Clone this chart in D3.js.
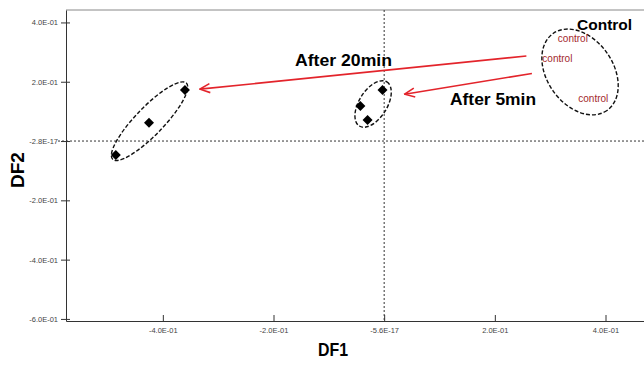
<!DOCTYPE html>
<html>
<head>
<meta charset="utf-8">
<script src="https://cdn.jsdelivr.net/npm/d3@7"></script>
<style>
  body { margin: 0; background: #fff; }
  svg { display: block; font-family: "Liberation Sans", Arial, sans-serif; }
</style>
</head>
<body>
<div id="chart"></div>
<script>
// discriminant scores
var df1Points = [-0.485, -0.425, -0.360, -0.043, -0.030, -0.003];
var df2Points = [-0.047, 0.062, 0.172, 0.118, 0.071, 0.172];

var controlDF1 = [0.341, 0.313, 0.378];
var controlDF2 = [0.347, 0.280, 0.142];
var controlText = ["control", "control", "control"];

var xTicks = [-0.4, -0.2, 0, 0.2, 0.4];
var xTickLabels = ["-4.0E-01", "-2.0E-01", "-5.6E-17", "2.0E-01", "4.0E-01"];
var yTicks = [0.4, 0.2, 0, -0.2, -0.4, -0.6];
var yTickLabels = ["4.0E-01", "2.0E-01", "-2.8E-17", "-2.0E-01", "-4.0E-01", "-6.0E-01"];

// group ellipses: centre in data units
var ellipseDF1 = [-0.424, -0.020, 0.354];
var ellipseDF2 = [0.067, 0.125, 0.233];

// arrows: start and end in data units
var arrowFrom1 = [0.257, 0.267];
var arrowFrom2 = [0.287, 0.228];
var arrowTo1 = [-0.333, 0.037];
var arrowTo2 = [0.175, 0.158];

var width = 644, height = 365;

var x = d3.scaleLinear().domain([-0.575, 0.475]).range([66, 647]);
var y = d3.scaleLinear().domain([-0.607, 0.442]).range([321, 10]);

var svg = d3.select("#chart").append("svg")
    .attr("width", width)
    .attr("height", height);

//테두리
svg.append("line").attr("x1", 66).attr("x2", width).attr("y1", 10).attr("y2", 10)
    .attr("stroke", "#888").attr("stroke-width", 1);

// zero lines
svg.append("line")
    .attr("x1", 58).attr("x2", width)
    .attr("y1", y(0)).attr("y2", y(0))
    .attr("stroke", "#333").attr("stroke-dasharray", "2,2");
svg.append("line")
    .attr("x1", x(0)).attr("x2", x(0))
    .attr("y1", 10).attr("y2", 321)
    .attr("stroke", "#333").attr("stroke-dasharray", "2,2");

// axes
var xAxis = d3.axisBottom(x).tickValues(xTicks).tickSize(0)
    .tickFormat(function (d, i) { return xTickLabels[i]; });
var gx = svg.append("g").attr("transform", "translate(0,321)").call(xAxis);
gx.select(".domain").attr("stroke", "#333");
gx.selectAll(".tick line").attr("y1", -6).attr("y2", 0).attr("stroke", "#333");
gx.selectAll("text").attr("dy", 0).attr("y", 12).attr("font-size", 7.5)
    .attr("fill", "#444").attr("font-family", "Liberation Sans, Arial, sans-serif");

var yAxis = d3.axisLeft(y).tickValues(yTicks).tickSize(0)
    .tickFormat(function (d, i) { return yTickLabels[i]; });
var gy = svg.append("g").attr("transform", "translate(66,0)").call(yAxis);
gy.select(".domain").attr("stroke", "#333");
gy.selectAll(".tick line").attr("x1", -5).attr("x2", 4).attr("stroke", "#333");
gy.selectAll("text").attr("x", -8).attr("font-size", 7.5)
    .attr("fill", "#444").attr("font-family", "Liberation Sans, Arial, sans-serif");

// axis titles
svg.append("text")
    .attr("x", 333).attr("y", 356)
    .attr("text-anchor", "middle")
    .attr("font-size", 18).attr("font-weight", "bold")
    .attr("textLength", 30).attr("lengthAdjust", "spacingAndGlyphs")
    .text("DF1");
svg.append("text")
    .attr("transform", "translate(24,170) rotate(-90)")
    .attr("text-anchor", "middle")
    .attr("font-size", 19).attr("font-weight", "bold")
    .text("DF2");

// ellipses
var ellRx = [53, 26, 47], ellRy = [14, 14, 33], ellRot = [-46, -58, 55];
svg.selectAll("ellipse.grp")
    .data(ellipseDF1)
    .enter().append("ellipse")
    .attr("class", "grp")
    .attr("transform", function (d, i) {
        return "translate(" + x(d) + "," + y(ellipseDF2[i]) + ") rotate(" + ellRot[i] + ")";
    })
    .attr("rx", function (d, i) { return ellRx[i]; })
    .attr("ry", function (d, i) { return ellRy[i]; })
    .attr("fill", "none")
    .attr("stroke", "#111")
    .attr("stroke-width", 1.4)
    .attr("stroke-dasharray", "4,2");

// points
svg.selectAll("path.pt")
    .data(df1Points)
    .enter().append("path")
    .attr("class", "pt")
    .attr("d", d3.symbol().type(d3.symbolSquare).size(50))
    .attr("transform", function (d, i) {
        return "translate(" + x(d) + "," + y(df2Points[i]) + ") rotate(45)";
    })
    .attr("fill", "#000");

svg.selectAll("text.ctrl")
    .data(controlDF1)
    .enter().append("text")
    .attr("class", "ctrl")
    .attr("x", function (d) { return x(d); })
    .attr("y", function (d, i) { return y(controlDF2[i]); })
    .attr("dy", "0.35em")
    .attr("text-anchor", "middle")
    .attr("font-size", 10)
    .attr("fill", "#a3282c")
    .text(function (d, i) { return controlText[i]; });

// arrows
svg.append("defs").append("marker")
    .attr("id", "head")
    .attr("viewBox", "0 0 12 12")
    .attr("refX", 11).attr("refY", 6)
    .attr("markerWidth", 12).attr("markerHeight", 12)
    .attr("markerUnits", "userSpaceOnUse")
    .attr("orient", "auto")
    .append("path")
    .attr("d", "M1,1.5 L11,6 L1,10.5")
    .attr("fill", "none")
    .attr("stroke", "#e3242b")
    .attr("stroke-width", 1.6);

svg.selectAll("line.arrow")
    .data(arrowFrom1)
    .enter().append("line")
    .attr("class", "arrow")
    .attr("x1", function (d) { return x(d); })
    .attr("y1", function (d, i) { return y(arrowFrom2[i]); })
    .attr("x2", function (d, i) { return x(arrowTo1[i]); })
    .attr("y2", function (d, i) { return y(arrowTo2[i]); })
    .attr("stroke", "#e3242b")
    .attr("stroke-width", 1.6)
    .attr("marker-end", "url(#head)");

// labels
svg.append("text").attr("x", 295).attr("y", 66)
    .attr("font-size", 16).attr("font-weight", "bold")
    .attr("textLength", 97).attr("lengthAdjust", "spacingAndGlyphs")
    .text("After 20min");
svg.append("text").attr("x", 450).attr("y", 105)
    .attr("font-size", 16).attr("font-weight", "bold")
    .attr("textLength", 86).attr("lengthAdjust", "spacingAndGlyphs")
    .text("After 5min");
svg.append("text").attr("x", 577).attr("y", 30)
    .attr("font-size", 15.5).attr("font-weight", "bold")
    .text("Control");
</script>
</body>
</html>
